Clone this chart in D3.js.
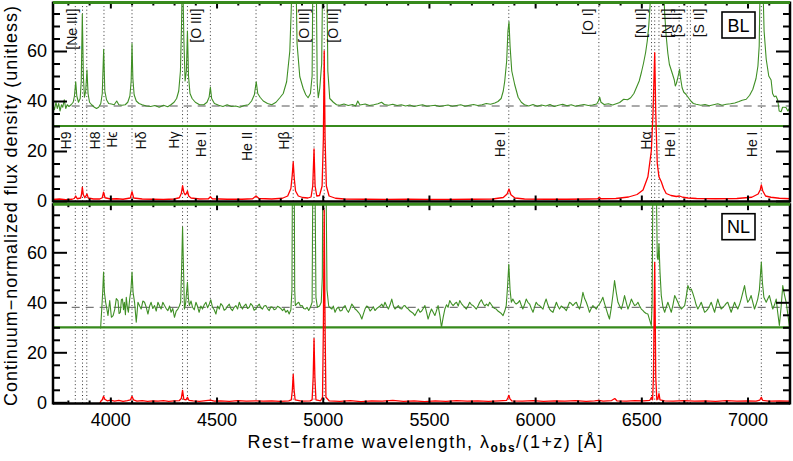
<!DOCTYPE html>
<html><head><meta charset="utf-8">
<script src="https://cdn.jsdelivr.net/npm/d3@7"></script>
<style>body{margin:0;background:#fff}svg{display:block}text{font-family:"Liberation Sans",Arial,sans-serif}</style>
</head><body>
<script>
// ---------- DATA ----------
// Broad-line (BL) panel: green = magnified spectrum (offset), red = spectrum
const blGreen = [[3730,38.5],[3737,36.5],[3744,39.5],[3750,37],[3757,39],[3763,36],[3770,38.5],[3776,37.5],[3783,40.5],[3790,37],[3797,38.5],[3805,37.8],[3815,38.5],[3825,39.5],[3831,42],[3837,47.7],[3842,42],[3850,39.5],[3858,41],[3863,48],[3868,74.8],[3873,50],[3878,41.5],[3884,44],[3890,52.4],[3895,43],[3902,39.5],[3912,38.5],[3925,37.5],[3935,37],[3945,37.5],[3955,39],[3962,43],[3968.5,60.7],[3974,44],[3982,40.5],[3992,39],[4005,38.8],[4018,38.5],[4030,40],[4040,38.5],[4055,38.3],[4070,38.5],[4082,39.5],[4092,42],[4098,48],[4102,63],[4106,49],[4112,42.5],[4122,40],[4135,39],[4150,38.5],[4170,38],[4190,37.8],[4210,38.2],[4230,37.5],[4250,38.3],[4270,37.7],[4285,38.5],[4300,39.5],[4312,41],[4322,44],[4330,52],[4335,70],[4338,85],[4342,85],[4346,65],[4352,48],[4358,52],[4363,68],[4368,50],[4375,43],[4385,41],[4400,39.5],[4420,38.5],[4440,38.5],[4455,39.5],[4465,41.5],[4471,45.5],[4477,41],[4490,39],[4510,38.3],[4530,37.8],[4550,38.5],[4570,37.8],[4590,38],[4610,37.5],[4630,38.2],[4650,38.5],[4665,40],[4678,42.5],[4687,47.7],[4694,43],[4705,41.5],[4720,40],[4740,39],[4760,38.5],[4780,39.5],[4798,41.3],[4814,43],[4830,47.7],[4845,60],[4851,75],[4855,85],[4875,85],[4879,63],[4892,49.7],[4908,45],[4920,42.5],[4931,41.3],[4942,43],[4950,50],[4953,85],[4970,85],[4974,47],[4979,41.3],[4986,45],[4995,55],[4999,85],[5020,85],[5024,52],[5033,41],[5050,39.5],[5065,38.5],[5080,38.3],[5100,38.8],[5120,38.2],[5140,38.6],[5155,38],[5165,40],[5175,38.4],[5200,38.8],[5220,38.2],[5240,38.5],[5260,38.9],[5277,39.5],[5290,38.6],[5310,38.3],[5330,38.7],[5350,38.2],[5370,38.5],[5390,38],[5410,38.4],[5430,37.8],[5450,38.2],[5470,38.5],[5490,37.9],[5510,38.1],[5530,38.3],[5550,37.8],[5570,38.1],[5590,38.4],[5610,37.9],[5630,38.2],[5650,38.5],[5670,37.9],[5690,38.3],[5710,38.6],[5730,38.2],[5750,38.5],[5770,39],[5790,38.7],[5810,39.2],[5825,39.8],[5840,41],[5850,44],[5857,48],[5866,56],[5872,68],[5877,71.7],[5882,62],[5890,52],[5904,46.5],[5920,41.5],[5935,39.5],[5950,38.5],[5970,38],[5990,38.6],[6010,37.9],[6030,38.4],[6050,38],[6070,38.6],[6090,37.8],[6110,38.3],[6130,38.7],[6150,38.1],[6170,38.5],[6190,37.9],[6210,38.3],[6230,38.6],[6250,38.2],[6270,38.4],[6290,38.8],[6298,40],[6304,41.5],[6310,39.5],[6325,38.6],[6345,38.9],[6365,38.4],[6385,39],[6398,39.4],[6417,40.7],[6435,40.5],[6450,41.3],[6465,43],[6480,46],[6490,48],[6500,51.3],[6510,55],[6520,59.3],[6528,64],[6535,70],[6541,78],[6545,85],[6605,85],[6610,75],[6617,66],[6625,59],[6632,54.7],[6647,50.7],[6655,48.5],[6660,46],[6665,47],[6670,48.7],[6676,51],[6680,52.7],[6685,49],[6692,45.3],[6700,43.5],[6710,42.7],[6720,41.5],[6733,40],[6745,39],[6758,38.7],[6780,38.3],[6800,38.6],[6820,38.1],[6840,38.5],[6860,38.9],[6880,38.3],[6900,38.7],[6920,38.9],[6940,39.2],[6960,39.8],[6975,40.3],[6994,40.7],[7010,42.3],[7025,44.7],[7040,49],[7049,54],[7055,62],[7059,85],[7073,85],[7078,68],[7088,56.7],[7100,50],[7111,48.4],[7118,43],[7126,41.7],[7134,42],[7142,40.4],[7149,36],[7158,35.7],[7165,37.5],[7173,37.5],[7181,37.4],[7190,36],[7197,37]];
const blRed = [[3730,0.6],[3760,0.8],[3790,0.5],[3820,0.7],[3830,1],[3837,2],[3844,0.9],[3860,1.2],[3864,2.5],[3868,5.5],[3873,2.5],[3880,1.3],[3890,2.8],[3896,1.2],[3920,0.8],[3950,0.8],[3962,1.3],[3968,3.5],[3975,1.3],[4000,0.8],[4030,0.9],[4060,0.7],[4094,1.2],[4102,3.7],[4110,1.2],[4150,0.8],[4200,0.7],[4250,0.6],[4300,0.8],[4325,1.3],[4334,3],[4340,6.1],[4346,3.5],[4352,2.5],[4358,3],[4363,4],[4369,2],[4380,1.2],[4420,0.8],[4462,0.9],[4471,1.7],[4480,0.9],[4550,0.7],[4620,0.7],[4670,0.9],[4686,2],[4700,1],[4760,0.8],[4810,1.1],[4835,2],[4850,5],[4856,10],[4861,15.6],[4866,9],[4872,4],[4885,2],[4905,1.4],[4930,1.2],[4945,1.6],[4953,6],[4959,20.8],[4964,6],[4972,2],[4985,2.2],[4997,6],[5003,25],[5007,60],[5011,25],[5017,6],[5030,2],[5060,1.1],[5100,0.8],[5200,0.7],[5300,0.6],[5400,0.7],[5500,0.6],[5600,0.6],[5700,0.7],[5800,0.8],[5850,1.4],[5868,2.8],[5877,4.8],[5886,2.5],[5905,1.2],[5950,0.8],[6050,0.7],[6150,0.7],[6250,0.8],[6295,0.9],[6302,1.5],[6310,0.9],[6380,1],[6440,1.6],[6480,2.6],[6508,4.4],[6531,9.7],[6547,20],[6555,35],[6563,59.3],[6568,35],[6575,15],[6583,9.7],[6594,7.7],[6605,5],[6617,3],[6640,2.2],[6665,1.8],[6680,2],[6695,1.5],[6720,1.2],[6760,1],[6850,0.9],[6950,1],[7020,1.5],[7050,2.8],[7060,4.5],[7065,6.4],[7072,4],[7085,2],[7110,1.5],[7150,1.1],[7200,0.9]];
// Narrow-line (NL) panel
const nlGreen = [[3954,29.5],[3960,38],[3964,44],[3968,52.1],[3972,44],[3978,40],[3989,34.7],[3997,40.7],[4005,34],[4013,34.7],[4021,37.3],[4028,41.5],[4036,40.7],[4041,35.5],[4047,36],[4052,41],[4057,41.3],[4062,37],[4066,40],[4071,35],[4075,42],[4080,38],[4085,36],[4091,41.3],[4097,45],[4102,52.1],[4107,44],[4114,40],[4122,32],[4130,40],[4138,38.5],[4145,37.3],[4153,40.5],[4161,40],[4169,38],[4177,35.3],[4185,38.5],[4192,40],[4200,37.5],[4208,38.7],[4216,36.5],[4224,40],[4232,38.5],[4239,37.3],[4247,40],[4255,38.7],[4263,37.5],[4271,36.7],[4279,38.5],[4286,36],[4294,37.5],[4302,34],[4310,36.5],[4318,37.3],[4325,38.5],[4331,40],[4336,55],[4340,70.1],[4344,55],[4349,37.3],[4355,40],[4359,44],[4363,48],[4367,42],[4372,38.7],[4380,40.5],[4387,38],[4395,37],[4403,40],[4410,38.5],[4418,36],[4426,38.5],[4434,37.3],[4442,39],[4450,40],[4458,37.8],[4466,39.3],[4473,41],[4481,38],[4489,37],[4497,35.3],[4505,38.5],[4513,37.3],[4520,39.5],[4528,38.7],[4536,36.8],[4544,37.3],[4552,38.5],[4560,39.3],[4567,37.5],[4575,36.7],[4583,38],[4591,38.7],[4599,37.3],[4607,40],[4614,38.5],[4622,37.3],[4630,38.6],[4638,39.3],[4646,37.5],[4654,38],[4661,39.5],[4669,38.7],[4677,36.8],[4685,37.3],[4693,38.5],[4701,39.3],[4708,37.8],[4716,37.3],[4724,38.5],[4732,38.7],[4740,37.5],[4748,36.7],[4756,38.2],[4764,38],[4771,37],[4779,37.3],[4787,38.4],[4795,38],[4803,37.5],[4811,36.7],[4818,37.5],[4826,36],[4834,36.8],[4842,35.3],[4850,37],[4855,45],[4857,85],[4866,85],[4868,45],[4871,38.7],[4879,39.5],[4887,40],[4895,38.5],[4903,38.7],[4910,37.5],[4918,37.3],[4926,38],[4934,36.7],[4942,38],[4950,40],[4953,85],[4964,85],[4968,42],[4975,38],[4985,38.5],[4993,40],[4998,50],[5000,85],[5016,85],[5020,45],[5028,38.5],[5035,37.8],[5043,37.3],[5050,38.5],[5058,36],[5066,37.5],[5074,38],[5082,36.5],[5090,36.7],[5097,38],[5105,38.7],[5113,37],[5121,36],[5129,37.5],[5137,39.3],[5144,38.5],[5152,37.3],[5160,36.8],[5168,36],[5176,35],[5184,33.3],[5192,35.5],[5199,37.3],[5207,38.5],[5215,38],[5223,36.5],[5231,37.3],[5238,38.2],[5246,36.7],[5254,37.5],[5262,38],[5270,38.5],[5278,39.3],[5285,38],[5293,40],[5301,38.5],[5309,37.3],[5317,39],[5325,41.3],[5333,38.5],[5340,37.3],[5348,38],[5356,38.7],[5364,37.5],[5372,37.3],[5380,38.5],[5387,38.7],[5395,37.8],[5403,37.3],[5411,36.5],[5419,36],[5427,35.5],[5434,34.7],[5442,36],[5450,37.3],[5458,36],[5466,36.5],[5473,37.5],[5481,38.7],[5489,36],[5496,33.3],[5504,35.5],[5512,37.3],[5520,36],[5528,34.7],[5535,36.5],[5543,38.7],[5551,35],[5559,30],[5567,34],[5575,37.3],[5583,39],[5590,38],[5598,40.7],[5606,39.5],[5614,38.7],[5622,39.5],[5630,40],[5638,38.5],[5645,40.7],[5653,39.5],[5661,38.7],[5669,38],[5676,37.3],[5684,38.5],[5692,40],[5700,39],[5708,38.7],[5716,38],[5723,37.3],[5731,38.5],[5739,40],[5747,41],[5755,39.5],[5763,38.5],[5771,39.3],[5779,38.6],[5786,40],[5794,39],[5802,38],[5810,37.5],[5817,37.3],[5825,36.5],[5833,36],[5841,35.5],[5849,34.7],[5857,36.5],[5864,38.7],[5870,46],[5876,55.2],[5882,45],[5888,40],[5895,41.3],[5903,40],[5911,39.3],[5919,39.8],[5927,40.7],[5934,39],[5942,37.3],[5950,39],[5958,41.3],[5966,40],[5974,39.3],[5982,37.5],[5990,36],[5997,38],[6005,40],[6013,39],[6021,38.7],[6029,38],[6037,37.3],[6044,39.5],[6052,41.3],[6060,39],[6068,37.3],[6076,36.5],[6084,36],[6092,38],[6100,40],[6107,38.5],[6115,37.3],[6123,38.5],[6131,38],[6139,37.5],[6147,36.7],[6155,38.5],[6162,40],[6170,39.5],[6178,38.7],[6186,39.5],[6194,40],[6201,38.5],[6209,37.3],[6217,40],[6225,44],[6233,41.5],[6241,40],[6249,38],[6256,36],[6264,37.5],[6272,38.7],[6280,38],[6288,37.3],[6295,38.5],[6303,39.3],[6311,40.5],[6319,42],[6327,39.5],[6335,37.3],[6343,35],[6350,33.3],[6358,37.5],[6366,42.7],[6374,48.7],[6382,44],[6390,40],[6398,38.5],[6406,37.3],[6413,39.5],[6421,42.7],[6429,40],[6437,37.3],[6445,39],[6453,41.3],[6460,40],[6468,38.7],[6476,39],[6484,40],[6492,38.5],[6500,37.3],[6507,36.8],[6515,36],[6523,35.5],[6531,35.3],[6539,33],[6547,30.7],[6551,40],[6554,85],[6571,85],[6575,58],[6579,57],[6583,63.5],[6588,52],[6594,42.7],[6602,38],[6610,36],[6617,38],[6625,40],[6633,38],[6641,36],[6649,39],[6657,42.7],[6664,41.5],[6672,40],[6680,38.5],[6688,37.3],[6696,38],[6704,38.7],[6711,42],[6719,46.7],[6727,45],[6735,45.3],[6743,43.5],[6751,41.3],[6758,39],[6766,37.3],[6774,38.5],[6782,40],[6790,38],[6798,36],[6805,36.5],[6813,37.3],[6821,38.5],[6829,40],[6837,38],[6845,36],[6852,38.5],[6860,41.3],[6868,39],[6876,37.3],[6884,38],[6892,38.7],[6899,39.5],[6907,40],[6915,38],[6923,36],[6931,38],[6939,40],[6946,38.5],[6954,37.3],[6962,39],[6970,41.3],[6978,44],[6986,46.7],[6993,43],[7001,40],[7009,41],[7017,42.7],[7025,40],[7033,37.3],[7040,39],[7048,41.3],[7056,45],[7060,50],[7065,56.1],[7070,48],[7077,42],[7088,40],[7096,41.5],[7103,42.7],[7111,40],[7119,37.3],[7127,39],[7135,41.3],[7142,36],[7150,30.7],[7158,38],[7166,46.7],[7174,43],[7182,40],[7190,35],[7197,30.7]];
const nlRed = [[3730,-0.6],[3950,-0.6],[3955,0.4],[3962,1],[3968,2.4],[3974,1.2],[3985,0.6],[4000,0.9],[4020,0.5],[4040,0.8],[4060,0.4],[4080,0.7],[4095,1],[4102,2.4],[4109,1],[4125,0.5],[4150,0.7],[4175,0.4],[4200,0.6],[4225,0.5],[4250,0.7],[4275,0.4],[4300,0.6],[4325,0.7],[4334,1.5],[4340,4.8],[4346,1.2],[4356,1],[4363,2],[4370,0.8],[4390,0.6],[4420,0.4],[4450,0.7],[4471,0.9],[4490,0.5],[4520,0.6],[4560,0.4],[4600,0.7],[4640,0.5],[4686,0.6],[4720,0.5],[4760,0.6],[4800,0.4],[4840,0.6],[4852,1],[4857,5],[4861,11.2],[4865,5],[4870,1],[4900,0.5],[4940,0.6],[4950,1],[4955,10],[4959,25.5],[4963,10],[4968,1],[4990,0.6],[4999,2],[5003,30],[5007,77],[5011,30],[5015,2],[5030,0.6],[5080,0.4],[5130,0.7],[5180,0.3],[5230,0.6],[5280,0.5],[5330,0.8],[5380,0.4],[5430,0.6],[5480,0.3],[5530,0.6],[5580,0.4],[5630,0.7],[5680,0.5],[5730,0.6],[5780,0.4],[5830,0.6],[5866,0.8],[5872,1.8],[5876,2.8],[5881,1.5],[5890,0.6],[5940,0.5],[5990,0.7],[6040,0.4],[6090,0.6],[6140,0.5],[6190,0.7],[6240,0.4],[6280,0.6],[6300,0.8],[6320,0.5],[6360,0.7],[6375,1.5],[6385,0.6],[6430,0.5],[6470,0.7],[6510,0.6],[6540,0.8],[6548,2],[6553,1],[6557,10],[6563,56],[6568,10],[6573,1],[6578,1.5],[6583,3.5],[6588,1],[6610,0.6],[6650,0.5],[6700,0.7],[6750,0.5],[6800,0.6],[6850,0.4],[6900,0.7],[6950,0.5],[7000,0.6],[7040,0.5],[7058,0.9],[7065,2],[7071,0.8],[7100,0.5],[7150,0.6],[7200,0.5]];

// Emission-line markers
const lineWaves  = [3835, 3869, 3889, 3970, 4102, 4340, 4363, 4471, 4686, 4861, 4959, 5007, 5876, 6300, 6548, 6563, 6583, 6678, 6716, 6731, 7065];
const lineNames  = ["H9","[Ne III]","H8","H\u03f5","H\u03b4","H\u03b3","[O III]","He I","He II","H\u03b2","[O III]","[O III]","He I","[O I]","[N II]","H\u03b1","[N II]","He I","[S II]","[S II]","He I"];
const lineRows   = ["b","t","b","b","b","b","t","b","b","b","t","t","b","t","t","b","t","b","t","t","b"];
const lineSides  = ["L","L","R","R","R","L","R","L","L","L","L","R","L","L","L","L","R","L","L","R","L"];

const xTicksMajor = [4000, 4500, 5000, 5500, 6000, 6500, 7000];
const yTicksMajor = [0, 20, 40, 60];
const greenOffset = 38, dividerLevel = 30;
const panelNames = ["BL", "NL"];

// ---------- LAYOUT ----------
const W = 793, H = 461, L = 53, R = 790;
const svg = d3.select("body").append("svg").attr("width", W).attr("height", H);
const x = d3.scaleLinear().domain([3730, 7200]).range([L, R]);
const panels = [
  {top: 2.5, bot: 201.5, y: d3.scaleLinear().domain([0, 79.4]).range([201, 2.5]), green: blGreen, red: blRed, name: panelNames[0], labels: true},
  {top: 204.2, bot: 403.5, y: d3.scaleLinear().domain([0, 79.2]).range([402.3, 204.3]), green: nlGreen, red: nlRed, name: panelNames[1], labels: false}
];
const GREEN = "#3f8f25", GREEN2 = "#378a1c";
const xMinor = d3.range(3800, 7200, 100).filter(v => !xTicksMajor.includes(v));
const yMinor = d3.range(0, 80, 5).filter(v => !yTicksMajor.includes(v));

panels.forEach((p, i) => {
  const g = svg.append("g");
  const cid = "clip" + i;
  svg.append("clipPath").attr("id", cid).append("rect")
    .attr("x", L).attr("y", p.top).attr("width", R - L).attr("height", p.bot - p.top);
  const c = g.append("g").attr("clip-path", `url(#${cid})`);
  // dotted line markers
  c.selectAll("line.mk").data(lineWaves).join("line")
    .attr("x1", d => x(d)).attr("x2", d => x(d)).attr("y1", p.top).attr("y2", p.bot)
    .attr("stroke", "#333").attr("stroke-width", 1).attr("stroke-dasharray", "1,2.6");
  // dashed offset baseline
  c.append("line").attr("x1", x(3818)).attr("x2", x(7200)).attr("y1", p.y(greenOffset)).attr("y2", p.y(greenOffset))
    .attr("stroke", "#555").attr("stroke-width", 1).attr("stroke-dasharray", "8,6");
  // divider
  c.append("line").attr("x1", L).attr("x2", R).attr("y1", p.y(dividerLevel)).attr("y2", p.y(dividerLevel))
    .attr("stroke", GREEN2).attr("stroke-width", 2.2);
  const line = d3.line().x(d => x(d[0])).y(d => p.y(d[1]));
  c.append("path").attr("d", line(p.green)).attr("fill", "none").attr("stroke", GREEN).attr("stroke-width", 1.1).attr("stroke-linejoin", "round");
  c.append("path").attr("d", line(p.red)).attr("fill", "none").attr("stroke", "#ff0000").attr("stroke-width", 1.3).attr("stroke-linejoin", "round");

  // axes (inward ticks)
  const ax = (gen, tx, ty) => g.append("g").attr("transform", `translate(${tx},${ty})`).call(gen).call(s => s.select(".domain").remove());
  const yl = ax(d3.axisLeft(p.y).tickValues(yTicksMajor).tickSize(-14).tickPadding(6).tickFormat(d3.format("d")), L, 0);
  yl.selectAll("text").attr("font-size", 18).attr("fill", "#000").style("font-family", '"Liberation Sans",Arial,sans-serif');
  ax(d3.axisLeft(p.y).tickValues(yMinor).tickSize(-7).tickFormat(""), L, 0);
  ax(d3.axisRight(p.y).tickValues(yTicksMajor).tickSize(-14).tickFormat(""), R, 0);
  ax(d3.axisRight(p.y).tickValues(yMinor).tickSize(-7).tickFormat(""), R, 0);
  const xb = ax(d3.axisBottom(x).tickValues(xTicksMajor).tickSize(-6).tickPadding(10).tickFormat(i === 1 ? d3.format("d") : ""), 0, p.bot);
  xb.selectAll("text").attr("font-size", 18).attr("fill", "#000").style("font-family", '"Liberation Sans",Arial,sans-serif');
  ax(d3.axisBottom(x).tickValues(xMinor).tickSize(-3).tickFormat(""), 0, p.bot);
  ax(d3.axisTop(x).tickValues(xTicksMajor).tickSize(-6).tickFormat(""), 0, p.top);
  ax(d3.axisTop(x).tickValues(xMinor).tickSize(-3).tickFormat(""), 0, p.top);
  g.selectAll(".tick line").attr("stroke", "#000").attr("stroke-width", 2);

  // frame
  g.append("line").attr("x1", L).attr("x2", L).attr("y1", p.top - 1).attr("y2", p.bot + 1).attr("stroke", "#000").attr("stroke-width", 2.5);
  g.append("line").attr("x1", R).attr("x2", R).attr("y1", p.top - 1).attr("y2", p.bot + 1).attr("stroke", "#000").attr("stroke-width", 2.5);
  g.append("line").attr("x1", L).attr("x2", R).attr("y1", p.bot).attr("y2", p.bot).attr("stroke", "#000").attr("stroke-width", 2.5);
  g.append("line").attr("x1", L).attr("x2", R).attr("y1", p.top).attr("y2", p.top).attr("stroke", GREEN2).attr("stroke-width", 3);

  // panel tag
  const by = p.top + 9.5;
  g.append("rect").attr("x", 722).attr("y", by).attr("width", 33).attr("height", 26)
    .attr("fill", "#fff").attr("stroke", "#000").attr("stroke-width", 1.6);
  g.append("text").attr("x", 738.5).attr("y", by + 19.5).attr("text-anchor", "middle").attr("font-size", 18).text(p.name);

  // line labels
  if (p.labels) {
    lineWaves.forEach((w, k) => {
      const dx = lineSides[k] === "R" ? 13.5 : (lineRows[k] === "t" ? -5.5 : -4);
      const yEnd = lineRows[k] === "t" ? 8.5 : 131.5;
      g.append("text").attr("transform", `translate(${x(w) + dx},${yEnd}) rotate(-90)`)
        .attr("text-anchor", "end").attr("font-size", 14).attr("fill", "#111").text(lineNames[k]);
    });
  }
});

// axis titles
svg.append("text").attr("transform", "translate(16.5,206) rotate(-90)").attr("text-anchor", "middle")
  .attr("font-size", 18).attr("textLength", 400).attr("lengthAdjust", "spacing")
  .text("Continuum\u2212normalized flux density (unitless)");
const xt = svg.append("text").attr("x", 425).attr("y", 448).attr("text-anchor", "middle").attr("font-size", 18)
  .attr("textLength", 355).attr("lengthAdjust", "spacing");
xt.append("tspan").text("Rest\u2212frame wavelength, \u03bb");
xt.append("tspan").attr("font-size", 12).attr("font-weight", "bold").attr("dy", 4).text("obs");
xt.append("tspan").attr("dy", -4).text("/(1+z)  [\u00c5]");
</script>
</body></html>
